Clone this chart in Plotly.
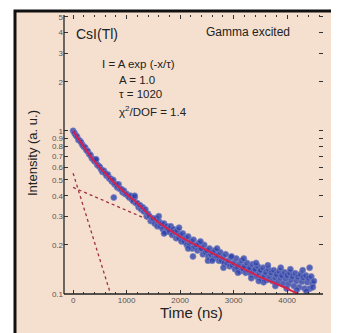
import plotly.graph_objects as go

# ---- data ----
time_ns = [0, 25, 50, 75, 100, 125, 150, 175, 200, 225, 250, 275, 300, 325, 350, 375,
           400, 425, 450, 475, 500, 525, 550, 575, 600, 625, 650, 675, 700, 725, 750, 775,
           800, 825, 850, 875, 900, 925, 950, 975, 1000, 1025, 1050, 1075, 1100, 1125, 1150, 1175,
           1200, 1225, 1250, 1275, 1300, 1325, 1350, 1375, 1400, 1425, 1450, 1475, 1500, 1525, 1550, 1575,
           1600, 1625, 1650, 1675, 1700, 1725, 1750, 1775, 1800, 1825, 1850, 1875, 1900, 1925, 1950, 1975,
           2000, 2025, 2050, 2075, 2100, 2125, 2150, 2175, 2200, 2225, 2250, 2275, 2300, 2325, 2350, 2375,
           2400, 2425, 2450, 2475, 2500, 2525, 2550, 2575, 2600, 2625, 2650, 2675, 2700, 2725, 2750, 2775,
           2800, 2825, 2850, 2875, 2900, 2925, 2950, 2975, 3000, 3025, 3050, 3075, 3100, 3125, 3150, 3175,
           3200, 3225, 3250, 3275, 3300, 3325, 3350, 3375, 3400, 3425, 3450, 3475, 3500, 3525, 3550, 3575,
           3600, 3625, 3650, 3675, 3700, 3725, 3750, 3775, 3800, 3825, 3850, 3875, 3900, 3925, 3950, 3975,
           4000, 4025, 4050, 4075, 4100, 4125, 4150, 4175, 4200, 4225, 4250, 4275, 4300, 4325, 4350, 4375,
           4400, 4425, 4450, 4475, 4500]
intensity = [1.00, 0.97, 0.94, 0.92, 0.88, 0.87, 0.85, 0.82, 0.80, 0.79, 0.76, 0.75, 0.72, 0.71, 0.68, 0.67,
             0.65, 0.66, 0.62, 0.61, 0.60, 0.58, 0.56, 0.57, 0.55, 0.53, 0.54, 0.51, 0.51, 0.49, 0.50, 0.47,
             0.47, 0.45, 0.47, 0.44, 0.44, 0.42, 0.43, 0.41, 0.41, 0.40, 0.39, 0.40, 0.38, 0.37, 0.39, 0.36,
             0.36, 0.34, 0.35, 0.33, 0.34, 0.32, 0.33, 0.30, 0.31, 0.30, 0.28, 0.29, 0.29, 0.27, 0.29, 0.26,
             0.28, 0.26, 0.27, 0.25, 0.27, 0.24, 0.26, 0.25, 0.24, 0.26, 0.23, 0.25, 0.24, 0.22, 0.245, 0.22,
             0.23, 0.21, 0.235, 0.21, 0.22, 0.20, 0.225, 0.20, 0.21, 0.19, 0.215, 0.195, 0.20, 0.185, 0.205, 0.19,
             0.19, 0.175, 0.20, 0.18, 0.185, 0.17, 0.19, 0.175, 0.18, 0.165, 0.185, 0.17, 0.172, 0.16, 0.18, 0.16,
             0.168, 0.155, 0.175, 0.155, 0.16, 0.148, 0.168, 0.15, 0.155, 0.142, 0.165, 0.145, 0.152, 0.138, 0.16, 0.143,
             0.148, 0.135, 0.155, 0.14, 0.145, 0.132, 0.152, 0.138, 0.142, 0.128, 0.148, 0.135, 0.14, 0.125, 0.145, 0.13,
             0.136, 0.122, 0.142, 0.128, 0.135, 0.12, 0.14, 0.126, 0.132, 0.118, 0.138, 0.125, 0.13, 0.116, 0.136, 0.124,
             0.13, 0.115, 0.135, 0.122, 0.128, 0.112, 0.134, 0.12, 0.127, 0.11, 0.132, 0.119, 0.126, 0.108, 0.13, 0.118,
             0.125, 0.108, 0.128, 0.116, 0.12]
extra_time_ns = [430, 760, 1150, 1600, 1700, 1980, 2150, 2240, 2380, 2520, 2690, 2810, 2960, 3080, 3190,
                 3330, 3420, 3560, 3640, 3780, 3880, 3990, 4060, 4180, 4290, 4360, 4420, 4480, 3470, 2600]
extra_intensity = [0.67, 0.39, 0.40, 0.30, 0.235, 0.255, 0.19, 0.17, 0.21, 0.16, 0.19, 0.145, 0.17, 0.135, 0.165,
                   0.125, 0.155, 0.118, 0.15, 0.112, 0.145, 0.108, 0.142, 0.106, 0.14, 0.104, 0.145, 0.11, 0.12, 0.16]

fit_time_ns = [0, 200, 400, 600, 800, 1000, 1200, 1500, 2000, 2500, 3000, 3500, 4000, 4200]
fit_intensity = [1.00, 0.80, 0.65, 0.55, 0.47, 0.41, 0.36, 0.29, 0.225, 0.185, 0.153, 0.127, 0.108, 0.100]

fast_time_ns = [0, 700]
fast_intensity = [0.55, 0.10]
slow_time_ns = [0, 2000]
slow_intensity = [0.45, 0.235]

y_tick_vals = [0.1, 0.2, 0.3, 0.4, 0.5, 0.6, 0.7, 0.8, 0.9, 1, 2, 3, 4, 5]
y_tick_text = ["0.1", "0.2", "0.3", "0.4", "0.5", "0.6", "0.7", "0.8", "0.9", "1", "2", "3", "4", "5"]
x_tick_vals = [0, 1000, 2000, 3000, 4000]
x_tick_text = ["0", "1000", "2000", "3000", "4000"]

# ---- layout helpers (screen pixel -> paper); page body adds an 8px offset ----
OFF = 8
W, H = 339 - OFF, 333 - OFF
L, R, T, B = 64 - OFF, 16, 13 - OFF, 39
PW, PH = W - L - R, H - T - B
def px(x):
    return (x - OFF - L) / PW
def py(y):
    return (H - B - (y - OFF)) / PH

FONT = "Liberation Sans, Arial, sans-serif"

fig = go.Figure()
fig.add_trace(go.Scatter(x=fast_time_ns, y=fast_intensity, mode="lines",
                         line=dict(color="#a03040", width=1.3, dash="dot"), hoverinfo="skip"))
fig.add_trace(go.Scatter(x=slow_time_ns, y=slow_intensity, mode="lines",
                         line=dict(color="#a03040", width=1.3, dash="dot"), hoverinfo="skip"))
fig.add_trace(go.Scatter(x=time_ns + extra_time_ns, y=intensity + extra_intensity, mode="markers",
                         marker=dict(size=6, color="rgba(45,65,170,0.8)",
                                     line=dict(color="rgba(120,130,195,0.9)", width=0.8))))
fig.add_trace(go.Scatter(x=fit_time_ns, y=fit_intensity, mode="lines", line_shape="spline",
                         line=dict(color="#d8204c", width=2)))

axis_common = dict(ticks="inside", showgrid=False, zeroline=False, showline=False, mirror="ticks",
                   tickcolor="#333", tickfont=dict(family=FONT, size=8, color="#555"))
fig.update_xaxes(range=[-170, 4670], tickvals=x_tick_vals, ticktext=x_tick_text, ticklen=4,
                 minor=dict(dtick=200, ticks="inside", ticklen=2, tickcolor="#333"), **axis_common)
fig.update_yaxes(type="log", range=[-1, 0.71], tickvals=y_tick_vals, ticktext=y_tick_text, ticklen=4,
                 **axis_common)

shapes = [
    dict(type="rect", xref="paper", yref="paper", x0=px(15), x1=px(333), y0=py(345), y1=py(9),
         fillcolor="#f5e0d0", line=dict(color="#111", width=3), layer="below"),
    dict(type="line", xref="paper", yref="paper", x0=0, x1=0, y0=0, y1=1,
         line=dict(color="#222", width=1.3)),
    dict(type="line", xref="paper", yref="paper", x0=0, x1=1, y0=0, y1=0,
         line=dict(color="#222", width=1.3)),
]

def ann(text, x, y, size, xanchor="left", angle=0, color="#222"):
    return dict(text=text, x=px(x), y=py(y), xref="paper", yref="paper", showarrow=False,
                xanchor=xanchor, yanchor="middle", textangle=angle,
                font=dict(family=FONT, size=size, color=color))

annotations = [
    ann("CsI(Tl)", 74, 32, 14),
    ann("Gamma excited", 204, 30, 12),
    ann("I = A exp (-x/τ)", 100, 62, 11.5),
    ann("A = 1.0", 117, 78, 11.5),
    ann("τ = 1020", 117, 93, 11.5),
    ann("χ<sup>2</sup>/DOF = 1.4", 117, 110, 11.5),
    ann("Intensity (a. u.)", 32, 152, 13, xanchor="center", angle=-90),
    ann("Time (ns)", 191, 313, 15, xanchor="center"),
]

fig.update_layout(width=W, height=H, margin=dict(l=L, r=R, t=T, b=B),
                  paper_bgcolor="white", plot_bgcolor="rgba(0,0,0,0)",
                  showlegend=False, shapes=shapes, annotations=annotations)
fig.write_html("out.html")
